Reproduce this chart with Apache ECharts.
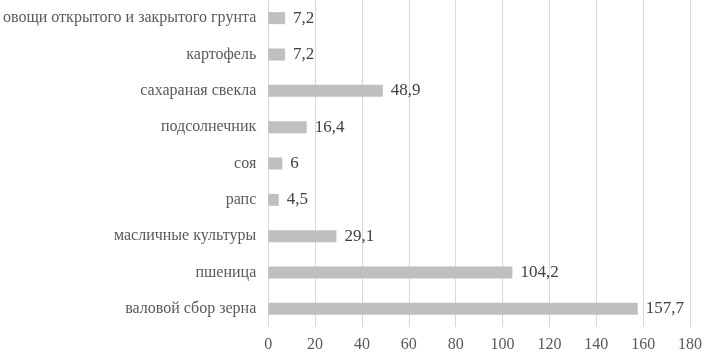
<!DOCTYPE html>
<html><head><meta charset="utf-8">
<script src="https://cdn.jsdelivr.net/npm/echarts@6/dist/echarts.min.js"></script>
<style>html,body{margin:0;padding:0;background:#fff}#c{width:705px;height:353px}</style>
</head><body><div id="c"></div>
<script>
const categories = ['валовой сбор зерна','пшеница','масличные культуры','рапс','соя','подсолнечник','сахараная свекла','картофель','овощи открытого и закрытого грунта'];
const values = [157.7,104.2,29.1,4.5,6,16.4,48.9,7.2,7.2];
const xTicks = [0,20,40,60,80,100,120,140,160,180];

const chart = echarts.init(document.getElementById('c'));
const font = '"Liberation Serif", "Times New Roman", serif';
chart.setOption({
  animation:false,
  grid:{left:268,right:12,top:-7,bottom:25,containLabel:false},
  xAxis:{type:'value',min:xTicks[0],max:xTicks[xTicks.length-1],interval:20,
    axisLine:{show:false},axisTick:{show:false},
    splitLine:{lineStyle:{color:'#d9d9d9',width:1}},
    axisLabel:{color:'#595959',fontFamily:font,fontSize:16,margin:10}},
  yAxis:{type:'category',data:categories,
    axisLine:{show:false},axisTick:{show:false},
    axisLabel:{color:'#595959',fontFamily:font,fontSize:16,margin:12}},
  series:[{type:'bar',data:values,barWidth:12,itemStyle:{color:'#bfbfbf'},
    label:{show:true,position:'right',distance:8,color:'#404040',fontFamily:font,fontSize:17,
      formatter:p=>String(p.value).replace('.',',')}}]
});
</script></body></html>
